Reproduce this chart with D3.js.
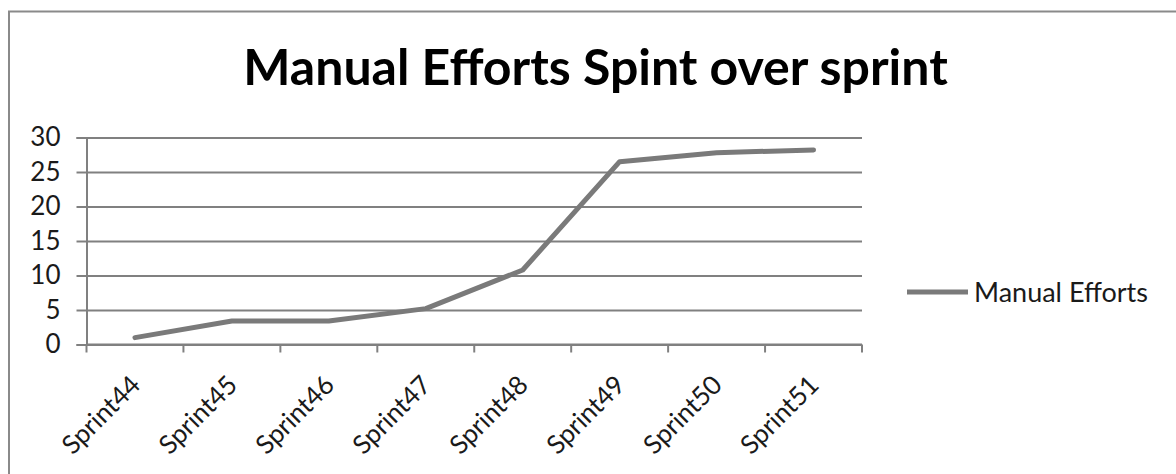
<!DOCTYPE html>
<html>
<head>
<meta charset="utf-8">
<script src="https://cdn.jsdelivr.net/npm/d3@7"></script>
<style>
  html, body { margin: 0; padding: 0; background: #fff; }
  svg { display: block; font-family: Lato, "Open Sans", sans-serif; }
</style>
</head>
<body>
<svg id="chart" width="1176" height="474"></svg>
<script>
// Sprint-by-sprint manual effort
const sprints = ["Sprint44", "Sprint45", "Sprint46", "Sprint47", "Sprint48", "Sprint49", "Sprint50", "Sprint51"];
const manualEfforts = [1, 3.4, 3.4, 5.2, 10.8, 26.5, 27.8, 28.2];
const yTicks = [0, 5, 10, 15, 20, 25, 30];
const seriesName = "Manual Efforts";
const chartTitle = "Manual Efforts Spint over sprint";

const svg = d3.select("#chart");
const W = 1176, H = 474;
const plot = { left: 86.5, right: 862, top: 137.5, bottom: 344.5 };
const gray = "#808080";

// outer chart frame (right and bottom edges run off the canvas)
svg.append("rect")
  .attr("x", 9).attr("y", 11.5)
  .attr("width", W + 20).attr("height", H + 20)
  .attr("fill", "#fff")
  .attr("stroke", "#8a8a8a").attr("stroke-width", 2);

svg.append("text")
  .attr("x", 595.5).attr("y", 85)
  .attr("text-anchor", "middle")
  .attr("font-weight", "bold")
  .attr("font-size", 50)
  .attr("fill", "#000")
  .text(chartTitle);

const x = d3.scaleBand().domain(sprints).range([plot.left, plot.right]);
const y = d3.scaleLinear().domain([0, 30]).range([plot.bottom, plot.top]);

// horizontal gridlines + y axis
const yAxis = svg.append("g")
  .attr("transform", `translate(${plot.left},0)`)
  .call(d3.axisLeft(y).tickValues(yTicks).tickSize(10).tickPadding(16));
yAxis.select(".domain").attr("stroke", gray).attr("stroke-width", 2);
yAxis.selectAll(".tick line").attr("stroke", gray).attr("stroke-width", 2);
yAxis.selectAll(".tick text")
  .attr("font-size", 26).attr("fill", "#1a1a1a")
  .attr("font-family", "Lato, sans-serif");
yAxis.selectAll(".tick").append("line")
  .attr("x1", 0).attr("x2", plot.right - plot.left)
  .attr("stroke", gray).attr("stroke-width", 2);

// category axis with ticks on band boundaries
const xAxisG = svg.append("g")
  .attr("transform", `translate(0,${plot.bottom})`);
xAxisG.append("line")
  .attr("x1", plot.left).attr("x2", plot.right)
  .attr("stroke", gray).attr("stroke-width", 2);
const edges = sprints.map(s => x(s)).concat([x.range()[1]]);
xAxisG.selectAll("line.tk").data(edges).enter().append("line")
  .attr("class", "tk")
  .attr("x1", d => d).attr("x2", d => d)
  .attr("y1", 0).attr("y2", 8)
  .attr("stroke", gray).attr("stroke-width", 2);
xAxisG.selectAll("text").data(sprints).enter().append("text")
  .attr("transform", d => `translate(${x(d) + x.bandwidth() / 2 + 7},${42}) rotate(-45)`)
  .attr("text-anchor", "end")
  .attr("font-size", 26)
  .attr("fill", "#1a1a1a")
  .text(d => d);

// series line
const line = d3.line()
  .x((d, i) => x(sprints[i]) + x.bandwidth() / 2)
  .y(d => y(d));
svg.append("path")
  .datum(manualEfforts)
  .attr("d", line)
  .attr("fill", "none")
  .attr("stroke", "#7a7a7a")
  .attr("stroke-width", 5)
  .attr("stroke-linejoin", "round")
  .attr("stroke-linecap", "round");

// legend
const lg = svg.append("g").attr("transform", "translate(907,292)");
lg.append("line").attr("x1", 0).attr("x2", 61)
  .attr("stroke", "#7a7a7a").attr("stroke-width", 5);
lg.append("text").attr("x", 67).attr("y", 9.5)
  .attr("font-size", 27).attr("fill", "#1a1a1a")
  .text(seriesName);
</script>
</body>
</html>
